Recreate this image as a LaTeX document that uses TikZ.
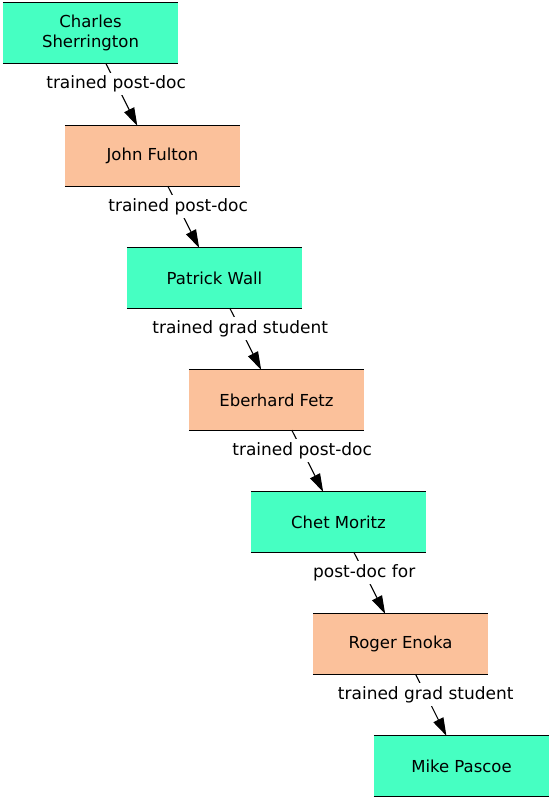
\documentclass[tikz,border=0pt]{standalone}
\usepackage{fontspec}
\setmainfont{DejaVu Sans}
\usetikzlibrary{arrows.meta}
\definecolor{teal1}{RGB}{70,255,194}
\definecolor{peach}{RGB}{251,193,155}
\tikzset{
  person/.style={minimum width=175pt, minimum height=60pt, inner sep=0pt, align=center, font=\fontsize{16.5}{20}\selectfont},
  tealbox/.style={person, fill=teal1},
  peachbox/.style={person, fill=peach},
  rel/.style={line width=1.1pt, -{Triangle[length=18pt,width=11pt]}},
  rellabel/.style={fill=white, inner sep=3pt, font=\fontsize{17}{20}\selectfont, pos=0.33},
  rule/.style={line width=1.3pt}
}
\begin{document}
\begin{tikzpicture}[x=1pt,y=1pt]
\useasboundingbox (0,0) rectangle (552,-800);
\node[tealbox]  (a) at (90.5,-33)  {Charles\\Sherrington};
\node[peachbox] (b) at (152.5,-156) {John Fulton};
\node[tealbox]  (c) at (214.5,-278) {Patrick Wall};
\node[peachbox] (d) at (276.5,-400) {Eberhard Fetz};
\node[tealbox]  (e) at (338.5,-522) {Chet Moritz};
\node[peachbox] (f) at (400.5,-644) {Roger Enoka};
\node[tealbox]  (g) at (461.5,-766) {Mike Pascoe};
\foreach \n in {a,b,c,d,e,f,g}{
  \draw[rule] (\n.north west) -- (\n.north east);
  \draw[rule] (\n.south west) -- (\n.south east);
}
\draw[rel] (a) -- node[rellabel] (la) {trained post-doc} (b);
\draw[rel] (b) -- node[rellabel] (lb) {trained post-doc} (c);
\draw[rel] (c) -- node[rellabel] (lc) {trained grad student} (d);
\draw[rel] (d) -- node[rellabel] (ld) {trained post-doc} (e);
\draw[rel] (e) -- node[rellabel] (le) {post-doc for} (f);
\draw[rel] (f) -- node[rellabel] (lf) {trained grad student} (g);
\end{tikzpicture}
\end{document}
